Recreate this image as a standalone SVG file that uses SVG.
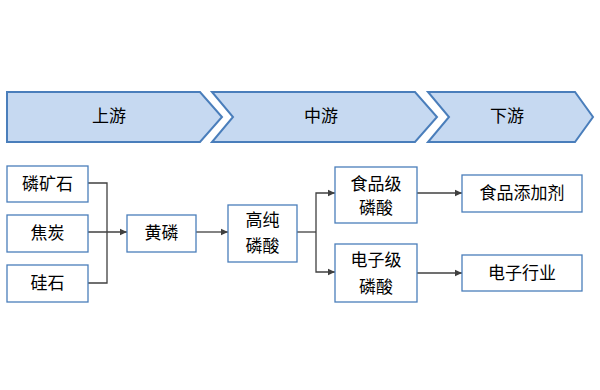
<svg xmlns="http://www.w3.org/2000/svg" width="600" height="390" viewBox="0 0 600 390">
<defs>
<style>
.chev{fill:#C6D9F1;stroke:#4A7EBB;stroke-width:2;}
.box{fill:#FFFFFF;stroke:#4A7EBB;stroke-width:1.3;}
.t{font-family:"Liberation Sans","Noto Sans CJK SC",sans-serif;font-size:17px;fill:#000;text-anchor:middle;dominant-baseline:central;}
.ct{font-family:"Liberation Sans","Noto Sans CJK SC",sans-serif;font-size:17px;fill:#000;text-anchor:middle;dominant-baseline:central;}
.ln{fill:none;stroke:#404040;stroke-width:1.3;}
.ar{fill:none;stroke:#404040;stroke-width:1.3;marker-end:url(#ah);}
</style>
<marker id="ah" markerWidth="8" markerHeight="8" refX="7" refY="4" orient="auto" markerUnits="userSpaceOnUse">
<path d="M0,0.8 L7,4 L0,7.2 Z" fill="#404040"/>
</marker>
</defs>
<rect width="600" height="390" fill="#FFFFFF"/>
<g id="stage-up">
<polygon class="chev" points="7,92 200,92 222,117 200,142 7,142"/>
<text class="ct" x="109" y="116">上游</text>
</g>
<g id="stage-mid">
<polygon class="chev" points="212,92 415,92 437,117 415,142 212,142 233,117"/>
<text class="ct" x="321" y="116">中游</text>
</g>
<g id="stage-down">
<polygon class="chev" points="428,92 575,92 593,117 575,142 428,142 449,117"/>
<text class="ct" x="507" y="116">下游</text>
</g>
<g id="connectors">
<polyline class="ln" points="88,183 107,183 107,283 88,283"/>
<line class="ar" x1="88" y1="232" x2="127" y2="232"/>
<line class="ar" x1="196" y1="232" x2="228" y2="232"/>
<line class="ln" x1="297" y1="232" x2="316" y2="232"/>
<polyline class="ar" points="316,232 316,193 335,193"/>
<polyline class="ar" points="316,232 316,272 335,272"/>
<line class="ar" x1="417" y1="193" x2="462" y2="193"/>
<line class="ar" x1="417" y1="273" x2="462" y2="273"/>
</g>
<g id="n-linkuangshi">
<rect class="box" x="7" y="166" width="81" height="36"/>
<text class="t" x="47.5" y="184">磷矿石</text>
</g>
<g id="n-jiaotan">
<rect class="box" x="7" y="215" width="81" height="37"/>
<text class="t" x="47.5" y="233.5">焦炭</text>
</g>
<g id="n-guishi">
<rect class="box" x="7" y="265" width="81" height="37"/>
<text class="t" x="47.5" y="283.5">硅石</text>
</g>
<g id="n-huanglin">
<rect class="box" x="127" y="215" width="69" height="37"/>
<text class="t" x="161.5" y="233.5">黄磷</text>
</g>
<g id="n-gaochun">
<rect class="box" x="228" y="205" width="69" height="57"/>
<text class="t" x="262.5" y="220">高纯</text>
<text class="t" x="262.5" y="246">磷酸</text>
</g>
<g id="n-shipinji">
<rect class="box" x="335" y="167" width="82" height="56"/>
<text class="t" x="376" y="184">食品级</text>
<text class="t" x="376" y="208">磷酸</text>
</g>
<g id="n-dianziji">
<rect class="box" x="335" y="244" width="82" height="58"/>
<text class="t" x="376" y="260">电子级</text>
<text class="t" x="376" y="287">磷酸</text>
</g>
<g id="n-shipintianjiaji">
<rect class="box" x="462" y="175" width="120" height="37"/>
<text class="t" x="522" y="193.5">食品添加剂</text>
</g>
<g id="n-dianzihangye">
<rect class="box" x="462" y="255" width="120" height="36"/>
<text class="t" x="522" y="273">电子行业</text>
</g>
</svg>
